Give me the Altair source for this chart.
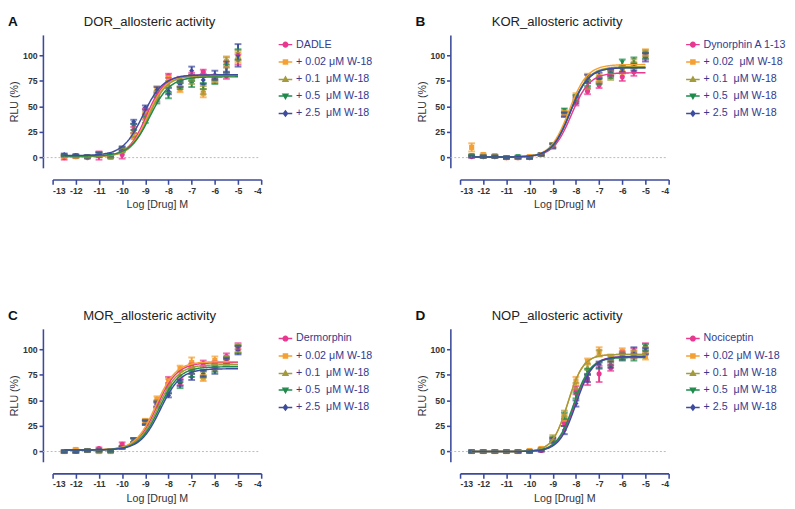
import altair as alt
import pandas as pd

# ---------------- data ----------------
X_LOG = [-12.5, -12.0, -11.5, -11.0, -10.5, -10.0, -9.5, -9.0,
         -8.5, -8.0, -7.5, -7.0, -6.5, -6.0, -5.5, -5.0]

NB = "\u00a0"
W18_02 = "+ 0.02 μM W-18"
W18_02_WIDE = "+ 0.02" + NB + " μM W-18"
W18_01 = "+ 0.1" + NB + " μM W-18"
W18_05 = "+ 0.5" + NB + " μM W-18"
W18_25 = "+ 2.5" + NB + " μM W-18"

LABELS_A = ["DADLE", W18_02, W18_01, W18_05, W18_25]
LABELS_B = ["Dynorphin A 1-13", W18_02_WIDE, W18_01, W18_05, W18_25]
LABELS_C = ["Dermorphin", W18_02, W18_01, W18_05, W18_25]
LABELS_D = ["Nociceptin", W18_02, W18_01, W18_05, W18_25]

# panel A: DOR
A_VALUES = [
    [0, 1, 0, 2, 1, 3, 27, 45, 58, 80, 76, 80, 84, 78, 80, 96],
    [1, 1, 1, 3, 1, 8, 20, 42, 67, 77, 67, 78, 63, 77, 94, 98],
    [2, 1, 1, 3, 0, 7, 22, 40, 62, 72, 72, 75, 66, 76, 93, 100],
    [2, 2, 1, 3, 1, 8, 30, 37, 56, 61, 70, 72, 70, 74, 87, 101],
    [3, 2, 1, 3, 3, 9, 35, 49, 66, 65, 72, 85, 76, 81, 89, 100],
]
A_SEM = [
    [2, 1, 1, 4, 1, 4, 3, 3, 3, 2, 3, 3, 2, 3, 3, 5],
    [1, 1, 1, 2, 1, 2, 2, 3, 3, 3, 3, 3, 4, 3, 5, 5],
    [1, 1, 1, 2, 1, 2, 2, 3, 3, 3, 3, 3, 4, 3, 5, 5],
    [1, 1, 1, 2, 1, 2, 3, 3, 3, 3, 3, 3, 3, 2, 4, 5],
    [1, 1, 1, 2, 1, 2, 2, 2, 3, 3, 3, 4, 4, 4, 5, 11],
]
A_FIT = [(1, 81, -8.95, 1.1), (1, 80, -8.9, 1.1), (1, 80, -8.85, 1.1),
         (1.5, 79, -8.8, 1.0), (2, 81, -9.1, 1.0)]

# panel B: KOR
B_VALUES = [
    [1, 1, 1, 0, 0, 0, 3, 12, 42, 54, 65, 71, 83, 79, 84, 99],
    [10, 3, 2, 0, 0, 1, 3, 12, 44, 60, 79, 78, 83, 85, 92, 103],
    [2, 1, 1, 0, 0, 0, 3, 11, 43, 58, 70, 76, 79, 86, 90, 102],
    [2, 1, 1, 0, 1, 0, 3, 12, 46, 58, 73, 75, 81, 93, 95, 100],
    [1, 1, 1, 0, 0, 0, 3, 11, 42, 56, 77, 80, 83, 87, 88, 98],
]
B_SEM = [
    [1, 1, 1, 1, 1, 1, 1, 2, 2, 3, 3, 3, 3, 4, 4, 3],
    [4, 1, 1, 1, 1, 1, 1, 2, 2, 3, 3, 3, 3, 3, 4, 3],
    [1, 1, 1, 1, 1, 1, 1, 2, 2, 3, 3, 3, 3, 3, 3, 3],
    [1, 1, 1, 1, 1, 1, 1, 2, 2, 3, 3, 3, 3, 3, 3, 3],
    [1, 1, 1, 1, 1, 1, 1, 2, 2, 3, 4, 3, 3, 3, 3, 4],
]
B_FIT = [(0.5, 83, -8.2, 1.1), (0.5, 91, -8.3, 1.1), (0.5, 89, -8.25, 1.1),
         (0.5, 88, -8.25, 1.1), (0.5, 88, -8.25, 1.1)]

# panel C: MOR
C_VALUES = [
    [0, 0, 1, 3, 1, 7, 11, 29, 47, 70, 68, 83, 86, 85, 93, 103],
    [0, 2, 1, 0, 0, 4, 11, 30, 51, 68, 81, 87, 72, 89, 90, 101],
    [0, 0, 1, 0, 1, 4, 11, 28, 46, 62, 76, 79, 75, 83, 90, 100],
    [0, 0, 1, 1, 0, 4, 11, 29, 46, 60, 65, 76, 77, 81, 89, 100],
    [0, 0, 1, 1, 1, 4, 11, 28, 46, 55, 67, 73, 76, 79, 88, 99],
]
C_SEM = [
    [1, 1, 1, 1, 1, 2, 2, 2, 3, 3, 3, 3, 3, 3, 3, 3],
    [1, 1, 1, 1, 1, 1, 2, 2, 3, 3, 3, 5, 3, 4, 3, 4],
    [1, 1, 1, 1, 1, 1, 2, 2, 3, 3, 3, 3, 3, 3, 3, 3],
    [1, 1, 1, 1, 1, 1, 2, 2, 3, 3, 3, 3, 3, 3, 3, 4],
    [1, 1, 1, 1, 1, 1, 2, 2, 2, 2, 3, 3, 3, 3, 3, 4],
]
C_FIT = [(1.5, 87, -8.5, 1.0), (1.5, 88, -8.55, 1.0), (1.5, 85, -8.45, 1.0),
         (1.5, 83, -8.4, 1.0), (1.5, 81, -8.35, 1.0)]

# panel D: NOP
D_VALUES = [
    [0, 0, 0, 0, 0, 0, 1, 10, 28, 60, 70, 76, 82, 95, 96, 102],
    [0, 0, 0, 0, 0, 1, 3, 12, 33, 69, 88, 98, 92, 98, 96, 93],
    [0, 0, 0, 0, 0, 0, 2, 14, 37, 64, 83, 96, 90, 93, 95, 99],
    [0, 0, 0, 0, 0, 0, 2, 12, 35, 55, 78, 84, 87, 92, 92, 102],
    [0, 0, 0, 0, 0, 0, 1, 11, 21, 47, 72, 85, 85, 93, 99, 98],
]
D_SEM = [
    [1, 1, 1, 1, 1, 1, 1, 2, 3, 4, 5, 8, 3, 3, 5, 4],
    [1, 1, 1, 1, 1, 1, 1, 2, 3, 4, 3, 4, 3, 3, 3, 3],
    [1, 1, 1, 1, 1, 1, 1, 2, 3, 3, 3, 3, 3, 3, 3, 3],
    [1, 1, 1, 1, 1, 1, 1, 2, 3, 3, 3, 3, 3, 3, 3, 3],
    [1, 1, 1, 1, 1, 1, 1, 2, 4, 3, 4, 3, 3, 3, 3, 3],
]
D_FIT = [(0, 93, -8.05, 1.2), (0, 95, -8.35, 1.3), (0, 95, -8.35, 1.3),
         (0, 92, -8.1, 1.2), (0, 93, -8.0, 1.2)]

PANELS = [
    ("A", "DOR_allosteric activity", LABELS_A, A_VALUES, A_SEM, A_FIT),
    ("B", "KOR_allosteric activity", LABELS_B, B_VALUES, B_SEM, B_FIT),
    ("C", "MOR_allosteric activity", LABELS_C, C_VALUES, C_SEM, C_FIT),
    ("D", "NOP_allosteric activity", LABELS_D, D_VALUES, D_SEM, D_FIT),
]

X_TICKS = [-13, -12, -11, -10, -9, -8, -7, -6, -5, -4]
Y_TICKS = [0, 25, 50, 75, 100]

# ---------------- style ----------------
FONT = "Liberation Sans"
COLORS = ["#e8388f", "#f5a033", "#a39a3c", "#1f8a4c", "#3e4c9e"]
POINT_SHAPES = ["circle", "square", "triangle-up", "triangle-down", "diamond"]
LEGEND_PATHS = [
    "M-1,0H1M0.34,0A0.34,0.34,0,1,1,-0.34,0A0.34,0.34,0,1,1,0.34,0Z",
    "M-1,0H1M-0.3,-0.3H0.3V0.3H-0.3Z",
    "M-1,0H1M0,-0.38L0.36,0.27H-0.36Z",
    "M-1,0H1M0,0.38L0.36,-0.27H-0.36Z",
    "M-1,0H1M0,-0.38L0.3,0L0,0.38L-0.3,0Z",
]
AXIS_COLOR = "#3b4a9b"
LEGEND_TEXT = "#353a8e"
W, H = 215, 137


def js_list(items):
    return "[" + ",".join("'" + s + "'" for s in items) + "]"


def make_panel(letter, title, labels, values, sems, fits):
    rows = []
    for si, lab in enumerate(labels):
        for xi, xv in enumerate(X_LOG):
            rows.append({"series": lab, "ord": si, "x": xv,
                         "y": values[si][xi], "sem": sems[si][xi]})
    df = pd.DataFrame(rows)
    fit_df = pd.DataFrame([
        {"series": lab, "ord": si, "bottom": f[0], "top": f[1],
         "ec50": f[2], "hill": f[3]}
        for si, (lab, f) in enumerate(zip(labels, fits))
    ])

    xscale = alt.Scale(domain=[-13, -4], nice=False, zero=False)
    yscale = alt.Scale(domain=[-10, 120], nice=False, zero=False)
    xaxis = alt.Axis(values=X_TICKS, labelExpr="datum.value + ''", title="Log [Drug] M",
                     offset=12, grid=False, domainColor=AXIS_COLOR, domainWidth=1.6,
                     tickColor=AXIS_COLOR, tickWidth=1.6, tickSize=5,
                     labelFontSize=9, labelFontWeight="bold", labelColor="#333",
                     labelPadding=2, titleFontSize=11, titleFontWeight="normal",
                     titleColor="#333", titlePadding=4, labelFont=FONT, titleFont=FONT)
    yaxis = alt.Axis(values=Y_TICKS, labelExpr="datum.value + ''", title="RLU (%)",
                     offset=10, grid=False, domainColor=AXIS_COLOR, domainWidth=1.6,
                     tickColor=AXIS_COLOR, tickWidth=1.6, tickSize=4,
                     labelFontSize=9, labelFontWeight="bold", labelColor="#333",
                     labelPadding=2, titleFontSize=11, titleFontWeight="normal",
                     titleColor="#333", titlePadding=3, labelFont=FONT, titleFont=FONT)
    cscale = alt.Scale(domain=labels, range=COLORS)

    idx = "indexof(" + js_list(labels) + ", datum.value)"
    legend = alt.Legend(
        title=None, orient="none", legendX=W + 17, legendY=2, padding=0,
        labelFont=FONT, labelFontSize=11, labelColor=LEGEND_TEXT,
        labelOffset=3, labelLimit=250, rowPadding=4,
        symbolSize=196, symbolStrokeWidth=1.5,
        symbolType=alt.ExprRef(expr=js_list(LEGEND_PATHS) + "[" + idx + "]"),
        symbolStrokeColor=alt.ExprRef(expr=js_list(COLORS) + "[" + idx + "]"),
        symbolFillColor=alt.ExprRef(expr=js_list(COLORS) + "[" + idx + "]"),
    )

    zero = alt.Chart(pd.DataFrame({"zero": [0]})).mark_rule(
        color="#b8b8c0", strokeDash=[2, 2], strokeWidth=1
    ).encode(y=alt.Y("zero:Q", scale=yscale, axis=yaxis),
             x=alt.value(-10), x2=alt.value(W - 2))

    base = alt.Chart(df).transform_calculate(
        lo="datum.y - datum.sem", hi="datum.y + datum.sem")

    pts = alt.Chart(df).mark_point(
        filled=True, size=28, opacity=1,
        shape=alt.ExprRef(expr=js_list(POINT_SHAPES) + "[datum.ord]"),
    ).encode(
        x=alt.X("x:Q", scale=xscale, axis=xaxis),
        y=alt.Y("y:Q", scale=yscale, axis=yaxis),
        color=alt.Color("series:N", scale=cscale, legend=legend),
        order="ord:Q")

    bars = base.mark_rule(strokeWidth=2).encode(
        x=alt.X("x:Q", scale=xscale, axis=xaxis),
        y=alt.Y("lo:Q", scale=yscale, axis=yaxis), y2="hi:Q",
        color=alt.Color("series:N", scale=cscale, legend=legend),
        order="ord:Q")

    caps = base.transform_fold(["lo", "hi"], as_=["end", "ey"]).mark_tick(
        orient="horizontal", size=7, thickness=2).encode(
        x=alt.X("x:Q", scale=xscale, axis=xaxis),
        y=alt.Y("ey:Q", scale=yscale, axis=yaxis),
        color=alt.Color("series:N", scale=cscale, legend=legend),
        order="ord:Q")

    curves = alt.Chart(fit_df).transform_calculate(
        xs="sequence(-12.5, -4.999, 0.05)"
    ).transform_flatten(["xs"]).transform_calculate(
        yc="datum.bottom + (datum.top - datum.bottom) / (1 + pow(10, (datum.ec50 - datum.xs) * datum.hill))"
    ).mark_line(strokeWidth=1.5).encode(
        x=alt.X("xs:Q", scale=xscale, axis=xaxis),
        y=alt.Y("yc:Q", scale=yscale, axis=yaxis),
        color=alt.Color("series:N", scale=cscale, legend=legend),
        detail="ord:N")

    letter_mark = alt.Chart(pd.DataFrame({"t": [letter]})).mark_text(
        font=FONT, fontSize=14, fontWeight="bold", align="left",
        baseline="top", color="#111").encode(
        text="t:N", x=alt.value(-46), y=alt.value(-20))

    title_mark = alt.Chart(pd.DataFrame({"t": [title]})).mark_text(
        font=FONT, fontSize=13.5, fontWeight="normal", align="center",
        baseline="top", color="#222").encode(
        text="t:N", x=alt.value(100), y=alt.value(-20))

    return alt.layer(zero, pts, bars, caps, curves, letter_mark, title_mark).properties(
        width=W, height=H)


panels = [make_panel(*p) for p in PANELS]

row1 = alt.hconcat(panels[0], panels[1], spacing=44).resolve_scale(color="independent")
row2 = alt.hconcat(panels[2], panels[3], spacing=44).resolve_scale(color="independent")

chart = alt.vconcat(row1, row2, spacing=103).resolve_scale(
    color="independent"
).properties(
    padding={"left": 0, "top": 0, "right": 0, "bottom": 0}
).configure(font=FONT).configure_view(stroke=None)

chart.save("out.html", embed_options={"renderer": "svg", "actions": False})
